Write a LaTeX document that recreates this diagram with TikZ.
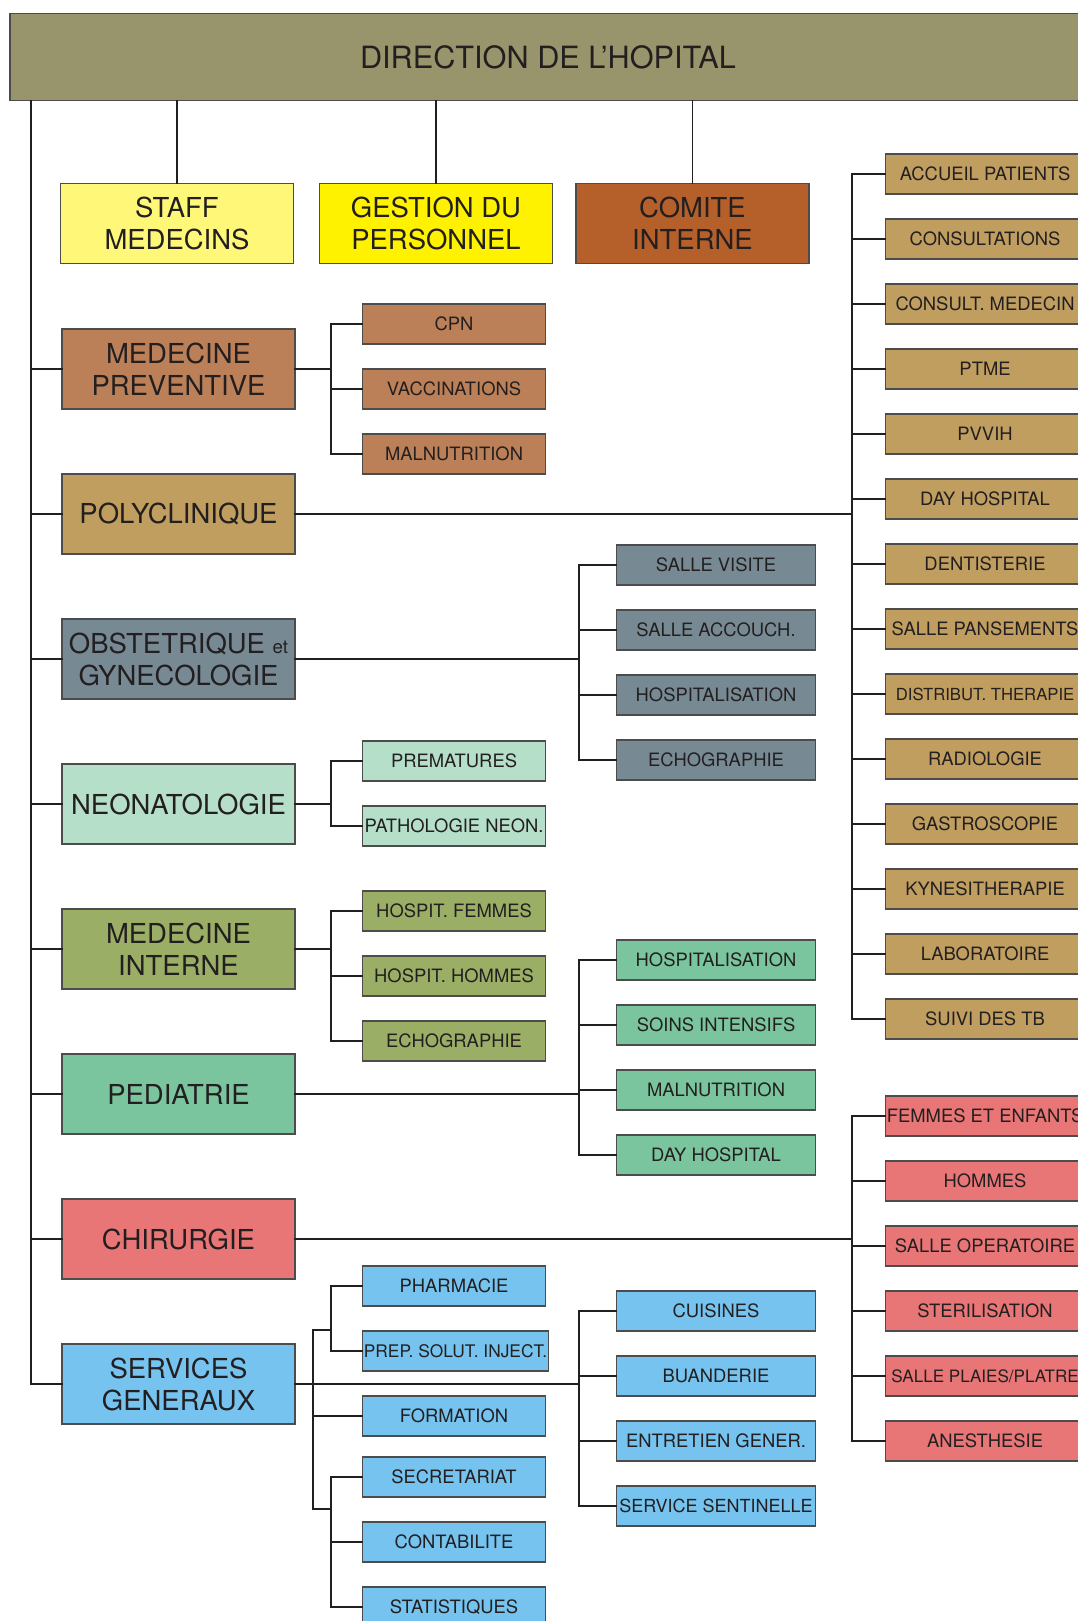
\documentclass[tikz,border=0pt]{standalone}
\usepackage{fontspec}
\setmainfont{TeX Gyre Heros}
\usepackage{xcolor}
\usetikzlibrary{calc}

\definecolor{inkc}{RGB}{35,31,32}
\definecolor{dirc}{RGB}{152,148,108}
\definecolor{staffc}{RGB}{255,247,120}
\definecolor{gestc}{RGB}{255,242,0}
\definecolor{comc}{RGB}{181,96,42}
\definecolor{prevc}{RGB}{188,128,88}
\definecolor{polyc}{RGB}{191,158,96}
\definecolor{obstc}{RGB}{119,138,148}
\definecolor{neoc}{RGB}{181,223,201}
\definecolor{medc}{RGB}{154,174,102}
\definecolor{pedc}{RGB}{122,197,158}
\definecolor{chirc}{RGB}{232,118,118}
\definecolor{servc}{RGB}{117,195,238}

\begin{document}
\begin{tikzpicture}[x=0.75pt,y=-0.75pt,
    box/.style={draw=black!70, line width=0.8pt, inner sep=0pt, align=center, text=inkc},
    bigbox/.style={box, minimum width=174.75pt, minimum height=60pt, font=\fontsize{20.6}{24}\selectfont},
    subbox/.style={box, anchor=west, inner xsep=1pt, minimum width=137.25pt, minimum height=30pt, font=\fontsize{13.8}{16}\selectfont},
    colbox/.style={box, anchor=west, inner xsep=1pt, minimum width=149.25pt, minimum height=30pt, font=\fontsize{13.8}{16}\selectfont},
    link/.style={draw=inkc, line width=2pt, line cap=rect},
    thinlink/.style={draw=inkc, line width=1.4pt, line cap=rect}]

    % page frame, the banner and the right column run off the edge
    \path[use as bounding box, clip] (0,0) rectangle (1078,1621);

    % x positions of the vertical buses
    \coordinate (trunk) at (31,0);
    \coordinate (sgbus) at (313,0);
    \coordinate (lbus) at (331,0);
    \coordinate (mbus) at (579,0);
    \coordinate (rbus) at (852,0);

    % Direction banner
    \node[box, fill=dirc, minimum width=807pt, minimum height=65.6pt,
          font=\fontsize{23}{27}\selectfont] (dir) at (548,57) {DIRECTION DE L’HOPITAL};

    % top row
    \node[bigbox, fill=staffc] (staff) at (177,223.5) {STAFF\\MEDECINS};
    \node[bigbox, fill=gestc] (gestion) at (436,223.5) {GESTION DU\\PERSONNEL};
    \node[bigbox, fill=comc] (comite) at (692.5,223.5) {COMITE\\INTERNE};

    % departments
    \node[bigbox, fill=prevc] (prev) at (178.5,369) {MEDECINE\\PREVENTIVE};
    \node[bigbox, fill=polyc] (poly) at (178.5,514) {POLYCLINIQUE};
    \node[bigbox, fill=obstc] (obst) at (178.5,659) {OBSTETRIQUE {\fontsize{14}{16}\selectfont et}\\GYNECOLOGIE};
    \node[bigbox, fill=neoc] (neo) at (178.5,804) {NEONATOLOGIE};
    \node[bigbox, fill=medc] (medint) at (178.5,949) {MEDECINE\\INTERNE};
    \node[bigbox, fill=pedc] (pedia) at (178.5,1094) {PEDIATRIE};
    \node[bigbox, fill=chirc] (chir) at (178.5,1239) {CHIRURGIE};
    \node[bigbox, fill=servc] (servg) at (178.5,1384) {SERVICES\\GENERAUX};

    % units next to the departments
    \foreach \lab [count=\i] in {CPN, VACCINATIONS, MALNUTRITION}
        \node[subbox, fill=prevc] (prev\i) at (362,259+65*\i) {\lab};
    \foreach \lab [count=\i] in {PREMATURES, PATHOLOGIE NEON.}
        \node[subbox, fill=neoc] (neo\i) at (362,696+65*\i) {\lab};
    \foreach \lab [count=\i] in {HOSPIT. FEMMES, HOSPIT. HOMMES, ECHOGRAPHIE}
        \node[subbox, fill=medc] (medint\i) at (362,846+65*\i) {\lab};
    \foreach \lab [count=\i] in {PHARMACIE, {\fontsize{13}{16}\selectfont PREP. SOLUT. INJECT.}, FORMATION}
        \node[subbox, fill=servc] (servg\i) at (362,1221+65*\i) {\lab};
    \foreach \lab [count=\i from 4] in {SECRETARIAT, CONTABILITE, STATISTIQUES}
        \node[subbox, fill=servc] (servg\i) at (362,1217+65*\i) {\lab};

    % middle columns
    \foreach \lab [count=\i] in {SALLE VISITE, SALLE ACCOUCH., HOSPITALISATION, ECHOGRAPHIE}
        \node[colbox, fill=obstc] (obst\i) at (616,500+65*\i) {\lab};
    \foreach \lab [count=\i] in {HOSPITALISATION, SOINS INTENSIFS, MALNUTRITION, DAY HOSPITAL}
        \node[colbox, fill=pedc] (pedia\i) at (616,895+65*\i) {\lab};
    \foreach \lab [count=\i] in {CUISINES, BUANDERIE, ENTRETIEN GENER., {\fontsize{13.5}{16}\selectfont SERVICE SENTINELLE}}
        \node[colbox, fill=servc] (sgr\i) at (616,1246+65*\i) {\lab};

    % right columns
    \foreach \lab [count=\i] in {ACCUEIL PATIENTS, CONSULTATIONS, CONSULT. MEDECIN, PTME, PVVIH,
        DAY HOSPITAL, DENTISTERIE, SALLE PANSEMENTS, {\fontsize{12.5}{16}\selectfont DISTRIBUT. THERAPIE}, RADIOLOGIE,
        GASTROSCOPIE, KYNESITHERAPIE, LABORATOIRE, SUIVI DES TB}
        \node[colbox, fill=polyc] (poly\i) at (885,109+65*\i) {\lab};
    \foreach \lab [count=\i] in {FEMMES ET ENFANTS, HOMMES, SALLE OPERATOIRE, STERILISATION,
        {\fontsize{12.8}{16}\selectfont SALLE PLAIES/PLATRE}, ANESTHESIE}
        \node[colbox, fill=chirc] (chir\i) at (885,1051+65*\i) {\lab};

    % trunk from the banner
    \draw[link] (dir.south -| trunk) |- (servg.west);
    \foreach \n in {prev,poly,obst,neo,medint,pedia,chir}
        \draw[link] (trunk |- \n.west) -- (\n.west);
    \foreach \n in {staff,gestion,comite}
        \draw[thinlink] (\n.north |- dir.south) -- (\n.north);

    % brackets: parent / children / count / bus
    \foreach \n/\c/\k/\bus in {prev/prev/3/lbus, neo/neo/2/lbus, medint/medint/3/lbus,
        obst/obst/4/mbus, pedia/pedia/4/mbus, servg/sgr/4/mbus, poly/poly/14/rbus, chir/chir/6/rbus} {
        \draw[link] (\n.east) -- (\n.east -| \bus);
        \draw[link] (\c1.west -| \bus) -- (\c\k.west -| \bus);
        \foreach \i in {1,...,\k}
            \draw[link] (\c\i.west -| \bus) -- (\c\i.west);
    }

    % services generaux, split bracket
    \coordinate (sgtop) at (313,1330);
    \coordinate (sgbot) at (313,1509);
    \draw[thinlink] (sgtop -| lbus) -- (sgtop) -- (sgbot) -- (sgbot -| lbus);
    \draw[link] (sgbus |- servg3.west) -- (servg3.west);
    \draw[thinlink] (servg1.west -| lbus) -- (servg2.west -| lbus);
    \draw[thinlink] (servg4.west -| lbus) -- (servg6.west -| lbus);
    \foreach \i in {1,2,4,5,6}
        \draw[link] (servg\i.west -| lbus) -- (servg\i.west);
\end{tikzpicture}
\end{document}
